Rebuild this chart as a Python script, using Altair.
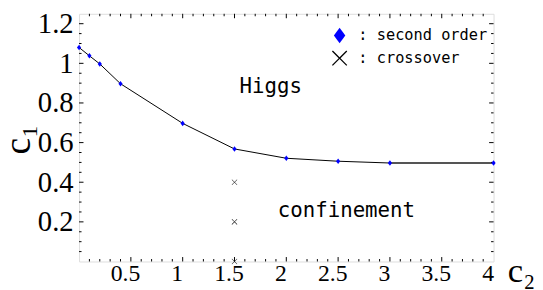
import altair as alt
import pandas as pd
import numpy as np

# ---- data ----
c2_second = [0.0, 0.1, 0.2, 0.4, 1.0, 1.5, 2.0, 2.5, 3.0, 4.0]
c1_second = [1.080, 1.038, 0.997, 0.897, 0.697, 0.568, 0.521, 0.506, 0.497, 0.497]
c2_cross = [1.5, 1.5, 1.5]
c1_cross = [0.4, 0.2, 0.0]
series_names = ["second order", "crossover"]
x_tick_labels = [0.5, 1, 1.5, 2, 2.5, 3, 3.5, 4]
y_tick_labels = [0.2, 0.4, 0.6, 0.8, 1, 1.2]
region_text = ["Higgs", "confinement"]
region_c2 = [1.85, 2.58]
region_c1 = [0.88, 0.255]

W, H = 420, 251
XDOM = [0, 4]
YDOM = [0, 1.25]

diamond = "M-0.75,0L0,-1L0.75,0L0,1Z"
xshape = ("M-1,-0.88L-0.88,-1L0,-0.12L0.88,-1L1,-0.88L0.12,0L1,0.88L0.88,1"
          "L0,0.12L-0.88,1L-1,0.88L-0.12,0Z")

pts = pd.DataFrame({
    "c2": c2_second + c2_cross,
    "c1": c1_second + c1_cross,
    "series": [series_names[0]] * len(c2_second) + [series_names[1]] * len(c2_cross),
})
main_line = pd.DataFrame({"c2": c2_second[:-1], "c1": c1_second[:-1]})
tail_line = pd.DataFrame({"c2": c2_second[-2:], "c1": c1_second[-2:]})
regions = pd.DataFrame({"c2": region_c2, "c1": region_c1, "t": region_text})

xs = alt.Scale(domain=XDOM, nice=False, zero=False)
ys = alt.Scale(domain=YDOM, nice=False, zero=False)

xaxis = alt.Axis(values=x_tick_labels, labelExpr="toString(datum.value)",
                 labelFont="Liberation Serif", labelFontSize=24, labelColor="black",
                 labelOffset=-6, labelPadding=0, ticks=False, domain=False, grid=False,
                 title="c₂", titleFont="Liberation Serif", titleFontSize=35,
                 titleFontWeight="normal", titleColor="black",
                 titleX=W + 14, titleY=20, titleAlign="left", titleBaseline="alphabetic",
                 labelFlush=False, labelOverlap=False)
yaxis = alt.Axis(values=y_tick_labels, labelExpr="toString(datum.value)",
                 labelFont="Liberation Serif", labelFontSize=29, labelColor="black",
                 labelPadding=6, ticks=False, domain=False, grid=False,
                 title="c₁", titleFont="Liberation Serif", titleFontSize=38,
                 titleFontWeight="normal", titleColor="black", titleAngle=270,
                 titleX=-50, titleY=127, titleAlign="center", titleBaseline="alphabetic",
                 labelFlush=False, labelOverlap=False)

base_x = alt.X("c2:Q", scale=xs, axis=xaxis)
base_y = alt.Y("c1:Q", scale=ys, axis=yaxis)

line1 = alt.Chart(main_line).mark_line(color="black", strokeWidth=1).encode(x=base_x, y=base_y)
line2 = alt.Chart(tail_line).mark_line(color="#555555", strokeWidth=1.8).encode(
    x=alt.X("c2:Q", scale=xs), y=alt.Y("c1:Q", scale=ys))

leg = alt.Legend(orient="none", legendX=256, legendY=14, title=None,
                 labelFont="DejaVu Sans Mono", labelFontSize=15.5,
                 labelColor="black", symbolSize=240,
                 symbolStrokeWidth=0, labelOffset=11, rowPadding=6,
                 padding=0, labelExpr="': ' + datum.label")

points = alt.Chart(pts).mark_point(filled=True, size=32, opacity=1).encode(
    x=alt.X("c2:Q", scale=xs),
    y=alt.Y("c1:Q", scale=ys),
    shape=alt.Shape("series:N", scale=alt.Scale(domain=series_names, range=[diamond, xshape]),
                    legend=leg),
    color=alt.Color("series:N", scale=alt.Scale(domain=series_names, range=["#0000ff", "black"]),
                    legend=leg),
)

texts = alt.Chart(regions).mark_text(font="DejaVu Sans Mono", fontSize=21, color="black",
                                     align="center", baseline="middle").encode(
    x=alt.X("c2:Q", scale=xs), y=alt.Y("c1:Q", scale=ys), text="t:N")

# inward frame ticks
x_minor = [v for v in np.round(np.arange(0.1, 4.0, 0.1), 2) if abs(v * 2 - round(v * 2)) > 1e-6]
x_major = [0.5, 1.0, 1.5, 2.0, 2.5, 3.0, 3.5]
y_minor = [v for v in np.round(np.arange(0.05, 1.25, 0.05), 2) if abs(v * 5 - round(v * 5)) > 1e-6]
y_major = [0.2, 0.4, 0.6, 0.8, 1.0, 1.2]

def xticks(vals, ln):
    d = pd.DataFrame({"v": vals})
    b = alt.Chart(d).mark_rule(color="black", strokeWidth=1).encode(
        x=alt.X("v:Q", scale=xs), y=alt.value(H), y2=alt.value(H - ln))
    t = alt.Chart(d).mark_rule(color="black", strokeWidth=1).encode(
        x=alt.X("v:Q", scale=xs), y=alt.value(0), y2=alt.value(ln))
    return [b, t]

def yticks(vals, ln):
    d = pd.DataFrame({"v": vals})
    l = alt.Chart(d).mark_rule(color="black", strokeWidth=1).encode(
        y=alt.Y("v:Q", scale=ys), x=alt.value(0), x2=alt.value(ln))
    r = alt.Chart(d).mark_rule(color="black", strokeWidth=1).encode(
        y=alt.Y("v:Q", scale=ys), x=alt.value(W), x2=alt.value(W - ln))
    return [l, r]

tick_layers = xticks(x_minor, 2.5) + xticks(x_major, 4.5) + yticks(y_minor, 2.5) + yticks(y_major, 4.5)

chart = alt.layer(line1, line2, *tick_layers, points, texts).properties(
    width=W, height=H,
    autosize=alt.AutoSizeParams(type="none"),
    padding={"left": 72, "top": 4, "right": 42, "bottom": 26},
).configure_view(stroke="black", strokeWidth=1.3).configure(background="white")

chart.save("out.html", embed_options={"renderer": "svg", "actions": False})
